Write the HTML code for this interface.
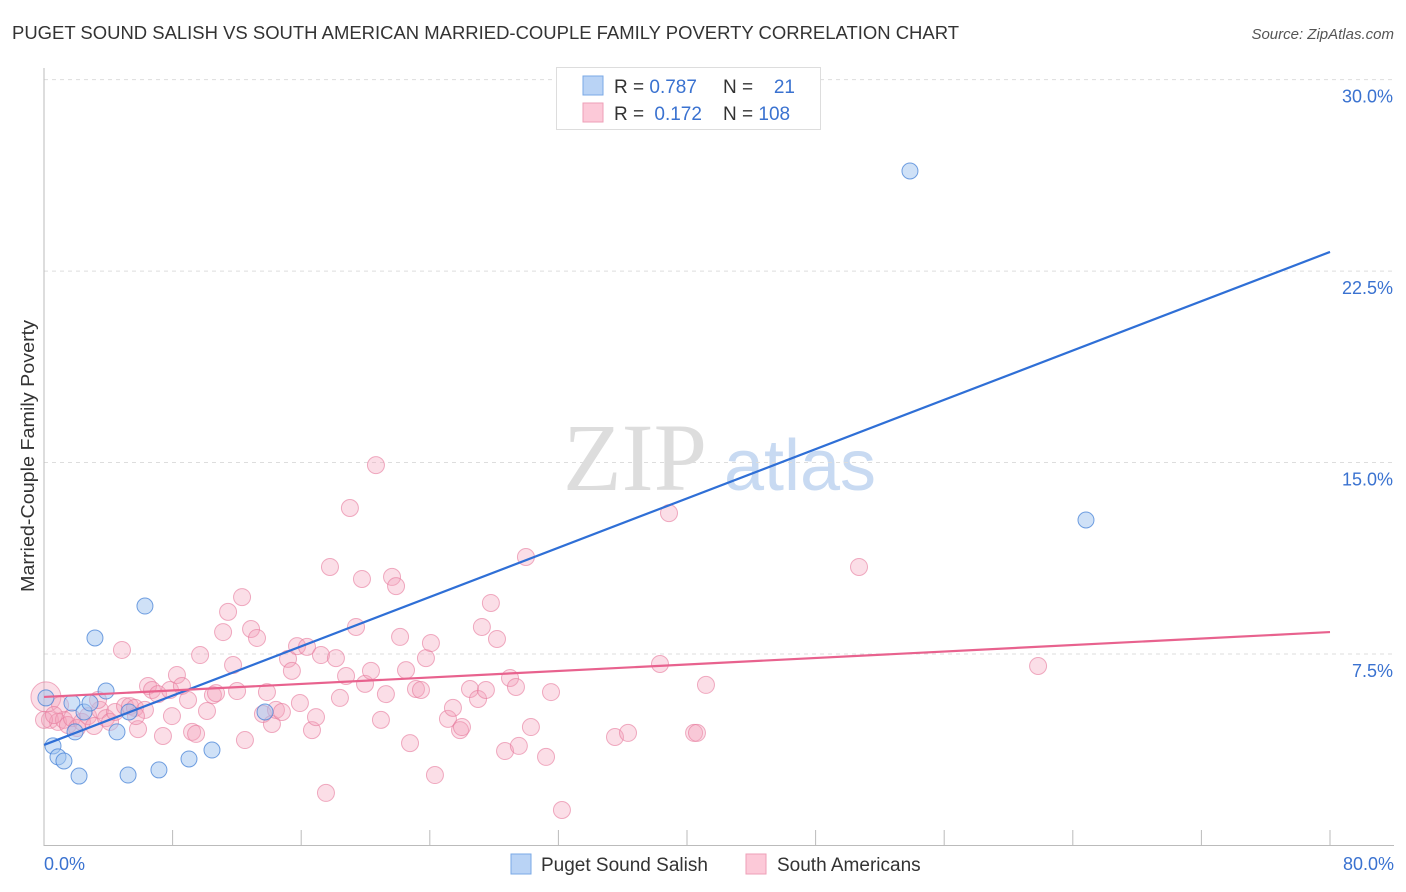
<!DOCTYPE html>
<html><head><meta charset="utf-8"><style>
body{margin:0;background:#fff;font-family:"Liberation Sans",sans-serif;}
svg{display:block}
</style></head><body>
<svg id="chart" width="1406" height="892" xmlns="http://www.w3.org/2000/svg">
<text x="12" y="39" font-size="18" fill="#333" textLength="947" lengthAdjust="spacingAndGlyphs">PUGET SOUND SALISH VS SOUTH AMERICAN MARRIED-COUPLE FAMILY POVERTY CORRELATION CHART</text>
<text x="1394" y="39" font-size="15" fill="#555" font-style="italic" text-anchor="end">Source: ZipAtlas.com</text>
<text x="34" y="456" font-size="18" fill="#333" text-anchor="middle" textLength="272" lengthAdjust="spacingAndGlyphs" transform="rotate(-90 34 456)">Married-Couple Family Poverty</text>
<g><text x="635" y="490" font-size="96" fill="#ddd" font-family="Liberation Serif,serif" text-anchor="middle">ZIP</text><text x="800" y="490" font-size="72" fill="#c8daf2" text-anchor="middle">atlas</text></g>
<g id="grid"></g><g id="axes"></g><g id="pink"></g><g id="blue"></g><g id="lines"></g>
<g>
<rect x="556.5" y="67.5" width="264" height="62" fill="#fff" stroke="#ddd"/>
<rect x="583" y="76" width="20" height="19" fill="#b9d3f5" stroke="#7aa8e6"/>
<rect x="583" y="103" width="20" height="19" fill="#fcc9d8" stroke="#ee9fb7"/>
<text x="614" y="93" font-size="19" fill="#333">R = <tspan fill="#3a72d0">0.787</tspan></text>
<text x="723" y="93" font-size="19" fill="#333">N =</text><text x="795" y="93" font-size="19" fill="#3a72d0" text-anchor="end">21</text>
<text x="614" y="120" font-size="19" fill="#333">R = <tspan fill="#3a72d0" dx="5">0.172</tspan></text>
<text x="723" y="120" font-size="19" fill="#333">N = <tspan fill="#3a72d0">108</tspan></text>
</g>
<g>
<rect x="511" y="854" width="20" height="20" fill="#b9d3f5" stroke="#7aa8e6"/>
<text x="541" y="871" font-size="19" fill="#333">Puget Sound Salish</text>
<rect x="746" y="854" width="20" height="20" fill="#fcc9d8" stroke="#ee9fb7"/>
<text x="777" y="871" font-size="19" fill="#333">South Americans</text>
</g>
</svg>
<script>
const blueX=[0.12,0.56,0.87,1.24,1.74,1.93,2.18,2.49,2.86,3.17,3.86,4.54,5.23,5.29,6.28,7.15,9.02,10.45,13.75,53.87,64.82];
const blueY=[5.78,3.90,3.47,3.31,5.58,4.45,2.72,5.23,5.58,8.13,6.05,4.45,2.76,5.23,9.38,2.96,3.39,3.74,5.23,26.42,12.75];
const pinkX=[0.12,0.37,0.87,1.24,1.49,1.74,2.05,2.36,2.74,3.11,3.48,3.86,4.11,4.42,4.85,5.04,5.35,5.66,5.85,6.28,6.47,6.72,7.09,7.40,7.84,7.96,8.27,8.58,8.96,9.21,9.46,9.71,10.14,10.51,10.70,11.14,11.45,11.76,12.01,12.32,12.50,12.88,13.25,13.62,13.87,14.18,14.43,14.80,15.18,15.42,15.74,15.92,16.36,16.67,16.92,17.23,17.54,17.79,18.16,18.41,18.79,19.03,19.41,19.78,19.97,20.34,20.65,20.96,21.27,21.65,21.90,22.15,22.52,22.77,23.14,23.45,23.76,24.07,24.32,25.13,25.44,25.88,26.00,26.50,27.00,27.49,27.80,27.24,28.18,28.68,28.99,29.36,29.54,29.98,30.29,31.23,31.54,32.22,35.52,36.33,38.32,38.88,40.44,40.62,41.18,50.70,61.84,0.0,1.0,0.62,3.36,5.72];
const pinkY=[5.82,4.92,4.84,4.92,4.72,4.99,4.60,4.84,5.07,4.68,5.31,4.99,4.84,5.23,7.66,5.46,5.46,5.39,4.56,5.31,6.25,6.09,5.93,4.29,6.09,5.07,6.68,6.25,5.70,4.45,4.37,7.46,5.27,5.89,5.97,8.36,9.15,7.07,6.05,9.73,4.13,8.48,8.13,5.15,6.01,4.76,5.31,5.23,7.31,6.84,7.81,5.58,7.78,4.52,5.03,7.46,2.06,10.91,7.34,5.78,6.64,13.22,8.56,10.44,6.33,6.84,14.90,4.92,5.93,10.52,10.16,8.17,6.87,4.01,6.13,6.09,7.34,7.93,2.76,4.96,5.39,4.52,4.64,6.13,5.74,6.09,9.50,8.56,8.09,3.70,6.56,6.21,3.90,11.30,4.64,3.47,6.01,1.39,4.25,4.41,7.11,13.02,4.41,4.41,6.29,10.91,7.03,4.92,5.50,5.11,5.70,5.07];
const yTicks=[7.5,15,22.5,30];
const xTicks=[0,8,16,24,32,40,48,56,64,72,80];
const blueTrend=[3.94,23.25];
const pinkTrend=[5.82,8.36];
const NS="http://www.w3.org/2000/svg";
const sx=v=>44+v*1286/80, sy=v=>845.5-v*25.53;
function mk(p,tag,at){const e=document.createElementNS(NS,tag);for(const k in at)e.setAttribute(k,at[k]);document.getElementById(p).appendChild(e);return e;}
yTicks.forEach(t=>{
 const l=mk('grid','line',{x1:44,x2:1394,y1:sy(t),y2:sy(t),stroke:'#ddd','stroke-dasharray':'4 4'});
 
 
 const tx=mk('grid','text',{x:1393,y:sy(t)+23,'font-size':18,fill:'#3a72d0','text-anchor':'end'});tx.textContent=t.toFixed(1)+'%';
 
 
});
mk('axes','line',{x1:44,x2:44,y1:68,y2:846,stroke:'#bbb'});
mk('axes','line',{x1:44,x2:1394,y1:845.5,y2:845.5,stroke:'#bbb'});
xTicks.forEach(t=>{
 const l=mk('axes','line',{x1:sx(t),x2:sx(t),y1:830,y2:846,stroke:'#bbb'});
 
 
});
const xl0=mk('axes','text',{x:44,y:870,'font-size':18,fill:'#3a72d0'});xl0.textContent=xTicks[0].toFixed(1)+'%';


const xl1=mk('axes','text',{x:1394,y:870,'font-size':18,fill:'#3a72d0','text-anchor':'end'});xl1.textContent=xTicks[xTicks.length-1].toFixed(1)+'%';


pinkX.forEach((x,i)=>{
 const c=mk('pink','circle',{cx:sx(x),cy:sy(pinkY[i]),r:i==0?15:8.5,fill:'rgba(244,160,186,0.35)',stroke:'rgba(230,120,155,0.6)','stroke-width':1});
 
 
});
blueX.forEach((x,i)=>{
 const c=mk('blue','circle',{cx:sx(x),cy:sy(blueY[i]),r:8,fill:'rgba(160,195,240,0.5)',stroke:'rgba(70,130,215,0.75)','stroke-width':1});
 
 
});
const bl=mk('lines','line',{x1:sx(0),y1:sy(blueTrend[0]),x2:sx(80),y2:sy(blueTrend[1]),stroke:'#2f6fd6','stroke-width':2.2});


const pl=mk('lines','line',{x1:sx(0),y1:sy(pinkTrend[0]),x2:sx(80),y2:sy(pinkTrend[1]),stroke:'#e8628e','stroke-width':2.2});


</script>
</body></html>
